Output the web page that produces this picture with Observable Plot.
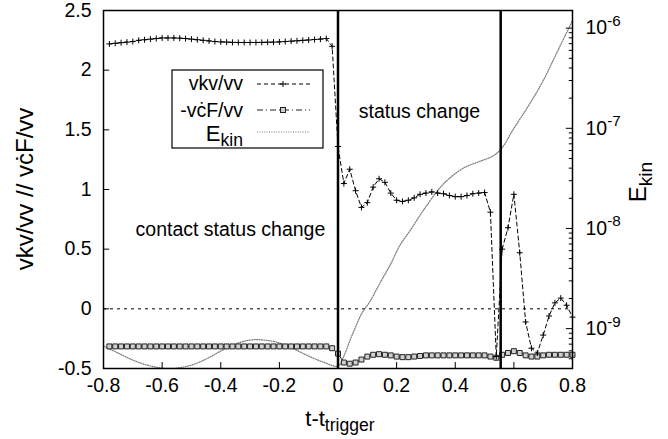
<!DOCTYPE html>
<html><head><meta charset="utf-8">
<script src="https://cdn.jsdelivr.net/npm/d3@7"></script>
<script src="https://cdn.jsdelivr.net/npm/@observablehq/plot@0.6"></script>
<style>
body{margin:0;background:#fff;}
#chart svg{display:block;}
</style>
</head><body><div id="chart"></div>
<script>
// ---- data ----
const tSamples = [-0.78,-0.76,-0.74,-0.72,-0.70,-0.68,-0.66,-0.64,-0.62,-0.60,-0.58,-0.56,-0.54,-0.52,-0.50,-0.48,-0.46,-0.44,-0.42,-0.40,-0.38,-0.36,-0.34,-0.32,-0.30,-0.28,-0.26,-0.24,-0.22,-0.20,-0.18,-0.16,-0.14,-0.12,-0.10,-0.08,-0.06,-0.04,-0.02,
  0,0.02,0.04,0.06,0.08,0.10,0.12,0.14,0.16,0.18,0.20,0.22,0.24,0.26,0.28,0.30,0.32,0.34,0.36,0.38,0.40,0.42,0.44,0.46,0.48,0.50,0.52,0.54,0.56,0.58,0.60,0.62,0.64,0.66,0.68,0.70,0.72,0.74,0.76,0.78,0.80];
const vkv = [2.22,2.225,2.23,2.235,2.24,2.25,2.255,2.26,2.265,2.27,2.27,2.27,2.268,2.265,2.26,2.255,2.25,2.245,2.24,2.237,2.235,2.233,2.232,2.232,2.232,2.232,2.233,2.234,2.235,2.237,2.24,2.243,2.246,2.25,2.253,2.257,2.26,2.265,2.2,
  1.36,1.05,1.17,0.99,0.85,0.89,1.02,1.09,1.06,0.97,0.91,0.90,0.91,0.93,0.96,0.97,0.98,0.97,0.965,0.95,0.94,0.94,0.95,0.965,0.97,0.975,0.81,-0.40,0.50,0.68,0.96,0.47,-0.11,-0.33,-0.37,-0.22,-0.06,0.05,0.09,0.03,-0.07];
const vcF = [-0.315,-0.315,-0.315,-0.315,-0.315,-0.315,-0.315,-0.315,-0.315,-0.315,-0.315,-0.315,-0.315,-0.315,-0.315,-0.315,-0.315,-0.315,-0.315,-0.315,-0.315,-0.315,-0.315,-0.315,-0.315,-0.315,-0.315,-0.315,-0.315,-0.315,-0.315,-0.315,-0.315,-0.315,-0.315,-0.315,-0.315,-0.315,-0.33,
  -0.375,-0.45,-0.46,-0.45,-0.425,-0.40,-0.385,-0.38,-0.385,-0.39,-0.40,-0.405,-0.405,-0.40,-0.395,-0.39,-0.39,-0.39,-0.39,-0.39,-0.39,-0.39,-0.39,-0.39,-0.39,-0.39,-0.40,-0.41,-0.385,-0.37,-0.355,-0.37,-0.39,-0.40,-0.40,-0.39,-0.385,-0.385,-0.385,-0.385,-0.385];
const tEkin = [-0.8,-0.75,-0.7,-0.65,-0.6,-0.55,-0.5,-0.45,-0.4,-0.35,-0.3,-0.25,-0.2,-0.15,-0.1,-0.05,0,0.02,0.04,0.06,0.08,0.11,0.145,0.18,0.21,0.25,0.29,0.36,0.43,0.48,0.53,0.56,0.595,0.65,0.70,0.75,0.80];
const ekin = [6.7e-10,5.7e-10,4.85e-10,4.32e-10,4.04e-10,4.04e-10,4.32e-10,4.97e-10,5.97e-10,7.02e-10,7.69e-10,7.69e-10,7.18e-10,6.25e-10,5.32e-10,4.63e-10,4.23e-10,5.32e-10,7.52e-10,1.04e-9,1.40e-9,1.89e-9,2.92e-9,4.43e-9,6.70e-9,9.91e-9,1.5e-8,2.79e-8,4.04e-8,4.63e-8,5.32e-8,6.4e-8,9.46e-8,1.68e-7,2.99e-7,5.97e-7,1.19e-6];
const triggerTimes = [0, 0.555];
const xTicks = [-0.8,-0.6,-0.4,-0.2,0,0.2,0.4,0.6,0.8];
const yTicks = [-0.5,0,0.5,1,1.5,2,2.5];
const y2Ticks = [1e-9,1e-8,1e-7,1e-6];
const seriesNames = ["vkv/vv","-vċF/vv","E"];
const annotations = [{label:"contact status change", t:-0.367, v:0.66},{label:"status change", t:0.278, v:1.65}];

// ---- scales ----
const xDom = [-0.8, 0.8], yDom = [-0.5, 2.5];
const y2Dom = [4e-10, 1.5e-6];
const lLo = Math.log10(y2Dom[0]), lHi = Math.log10(y2Dom[1]);
const toLeft = e => yDom[0] + (Math.log10(e) - lLo) / (lHi - lLo) * (yDom[1] - yDom[0]);
const fromLeft = v => lLo + (v - yDom[0]) / (yDom[1] - yDom[0]) * (lHi - lLo);

const vkvData = tSamples.map((t,i)=>({t, v: vkv[i]}));
const vcfData = tSamples.map((t,i)=>({t, v: vcF[i]}));
const ekinData = tEkin.map((t,i)=>({t, v: toLeft(ekin[i])}));
const y2Minor = [];
for (let d = -10; d <= -6; d++) for (let k = 2; k <= 9; k++) { const e = k * Math.pow(10, d); if (e >= y2Dom[0] && e <= y2Dom[1]) y2Minor.push(toLeft(e)); }

const plusSymbol = {draw(ctx, size){ const r = Math.sqrt(size/Math.PI); ctx.moveTo(-r,0); ctx.lineTo(r,0); ctx.moveTo(0,-r); ctx.lineTo(0,r);} };

const FONT = "'Liberation Sans', Arial, Helvetica, sans-serif";
const plot = Plot.plot({
  width: 668, height: 439,
  marginLeft: 103, marginRight: 96, marginTop: 10, marginBottom: 71,
  style: {fontFamily: FONT, fontSize: "19.5px", background: "white", color: "black", overflow: "visible"},
  x: {domain: xDom},
  y: {domain: yDom},
  marks: [
    Plot.ruleY([0], {stroke: "black", strokeWidth: 1, strokeDasharray: "3,4"}),
    Plot.line(ekinData, {x: "t", y: "v", stroke: "#777", strokeWidth: 1.2, strokeDasharray: "1,1.4", curve: "catmull-rom"}),
    Plot.line(vcfData, {x: "t", y: "v", stroke: "#222", strokeWidth: 1, strokeDasharray: "6,3,1,3"}),
    Plot.dot(vcfData, {x: "t", y: "v", symbol: "square", r: 2.8, stroke: "#222", fill: "#d0d0d0", strokeWidth: 1}),
    Plot.line(vkvData, {x: "t", y: "v", stroke: "black", strokeWidth: 1, strokeDasharray: "4,3"}),
    Plot.dot(vkvData, {x: "t", y: "v", symbol: plusSymbol, r: 3, stroke: "black", strokeWidth: 1}),
    Plot.ruleX(triggerTimes, {stroke: "black", strokeWidth: 2.5}),
    Plot.text(annotations, {x: "t", y: "v", text: "label", fontSize: 19.5, fill: "black"}),
    Plot.ruleX(xTicks, {y1: yDom[0], y2: yDom[0] + 0.05, stroke: "black"}),
    Plot.ruleY(yTicks, {x1: xDom[0], x2: xDom[0] + 0.021, stroke: "black"}),
    Plot.ruleY(y2Ticks.map(toLeft), {x1: xDom[1] - 0.021, x2: xDom[1], stroke: "black"}),
    Plot.ruleY(y2Minor, {x1: xDom[1] - 0.011, x2: xDom[1], stroke: "black"}),
    Plot.frame({stroke: "black", strokeWidth: 1.5}),
    Plot.axisX(xTicks, {tickSize: 0, tickPadding: 10, tickFormat: d => String(d), label: null}),
    Plot.axisY(yTicks, {anchor: "left", tickSize: 0, tickPadding: 12, tickFormat: d => String(d), label: null}),
    Plot.axisY(y2Ticks.map(toLeft), {anchor: "right", tickSize: 0, tickPadding: 13, tickFormat: d => "10^" + String(Math.round(fromLeft(d))), label: null})
  ]
});
document.getElementById("chart").appendChild(plot);

const svg = d3.select(plot);
// superscripts on right axis
svg.selectAll("text").each(function(){
  const s = this.textContent;
  if (s.startsWith("10^")) {
    const exp = s.slice(3);
    this.textContent = "";
    const el = d3.select(this);
    el.append("tspan").text("10");
    el.append("tspan").attr("dy", "-0.55em").attr("font-size", "0.78em").text(exp);
  }
});

const g = svg.append("g").attr("font-family", FONT).attr("fill", "black");
// axis titles
g.append("text").attr("transform", "translate(33,189) rotate(-90)").attr("text-anchor", "middle").attr("font-size", 24).text("vkv/vv // vċF/vv");
const ek = g.append("text").attr("transform", "translate(646,182) rotate(-90)").attr("text-anchor", "middle").attr("font-size", 24);
ek.append("tspan").text("E");
ek.append("tspan").attr("dy", "0.3em").attr("font-size", "0.8em").text("kin");
const xl = g.append("text").attr("x", 340).attr("y", 426).attr("text-anchor", "middle").attr("font-size", 22);
xl.append("tspan").text("t-t");
xl.append("tspan").attr("dy", "0.3em").attr("font-size", "0.8em").text("trigger");

// legend
const lg = g.append("g");
lg.append("rect").attr("x", 172).attr("y", 70).attr("width", 151).attr("height", 78).attr("fill", "white").attr("stroke", "black").attr("stroke-width", 1.2);
const rows = [84, 110, 132];
lg.append("text").attr("x", 243).attr("y", rows[0] + 6).attr("text-anchor", "end").attr("font-size", 19.5).text(seriesNames[0]);
lg.append("text").attr("x", 243).attr("y", rows[1] + 7).attr("text-anchor", "end").attr("font-size", 19.5).text(seriesNames[1]);
const le = lg.append("text").attr("x", 243).attr("y", rows[2] + 9).attr("text-anchor", "end").attr("font-size", 22);
le.append("tspan").text(seriesNames[2]);
le.append("tspan").attr("dy", "0.3em").attr("font-size", "0.8em").text("kin");
lg.append("line").attr("x1", 257).attr("x2", 310).attr("y1", rows[0]).attr("y2", rows[0]).attr("stroke", "black").attr("stroke-dasharray", "4,3");
lg.append("path").attr("d", `M280,${rows[0]}h6M283,${rows[0]-3}v6`).attr("stroke", "black");
lg.append("line").attr("x1", 257).attr("x2", 310).attr("y1", rows[1]).attr("y2", rows[1]).attr("stroke", "#222").attr("stroke-dasharray", "6,3,1,3");
lg.append("rect").attr("x", 280.5).attr("y", rows[1]-2.5).attr("width", 5).attr("height", 5).attr("fill", "#d0d0d0").attr("stroke", "#222");
lg.append("line").attr("x1", 257).attr("x2", 310).attr("y1", rows[2]).attr("y2", rows[2]).attr("stroke", "#777").attr("stroke-width", 1.2).attr("stroke-dasharray", "1,1.4");
</script>
</body></html>
